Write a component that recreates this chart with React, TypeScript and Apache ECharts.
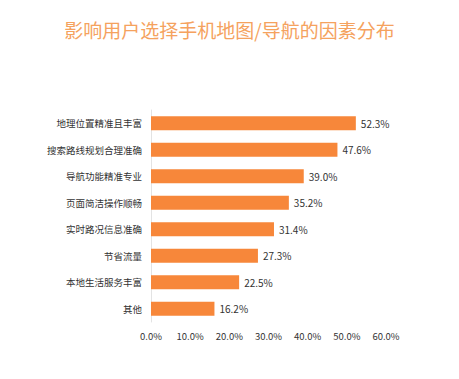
import React, { useEffect, useRef } from "react";
import * as echarts from "echarts";

const categories = ["地理位置精准且丰富", "搜索路线规划合理准确", "导航功能精准专业", "页面简洁操作顺畅", "实时路况信息准确", "节省流量", "本地生活服务丰富", "其他"];
const values = [52.3, 47.6, 39.0, 35.2, 31.4, 27.3, 22.5, 16.2];
const titleText = "影响用户选择手机地图/导航的因素分布";

export default function App() {
  const ref = useRef<HTMLDivElement>(null);
  useEffect(() => {
    const chart = echarts.init(ref.current!, undefined, { renderer: "svg" });
    const font = "'Noto Sans CJK SC', sans-serif";
    chart.setOption({
      animation: false,
      backgroundColor: "#ffffff",
      title: {
        text: titleText,
        left: "center",
        top: 15,
        textStyle: { color: "#F5A25E", fontSize: 19, fontWeight: "normal", fontFamily: font },
      },
      grid: { left: 151, right: 73, top: 110, bottom: 57, containLabel: false },
      xAxis: {
        type: "value",
        min: 0,
        max: 60,
        interval: 10,
        axisLine: { show: false },
        axisTick: { show: false },
        splitLine: { show: false },
        axisLabel: {
          color: "#333",
          fontSize: 9.5,
          fontFamily: font,
          margin: 9,
          formatter: (v: number) => v.toFixed(1) + "%",
        },
      },
      yAxis: {
        type: "category",
        data: categories,
        inverse: true,
        axisLine: { show: true, lineStyle: { color: "#E3E3E3" } },
        axisTick: { show: false },
        axisLabel: { color: "#333", fontSize: 9.5, fontFamily: font, margin: 9 },
      },
      series: [
        {
          type: "bar",
          data: values,
          barWidth: 14,
          itemStyle: { color: "#F7873A" },
          label: {
            show: true,
            position: "right",
            distance: 5,
            color: "#333",
            fontSize: 10,
            fontFamily: font,
            formatter: (p: any) => p.value.toFixed(1) + "%",
          },
        },
      ],
    });
    return () => chart.dispose();
  }, []);
  return <div ref={ref} style={{ width: 459, height: 379, margin: -8 }} />;
}
